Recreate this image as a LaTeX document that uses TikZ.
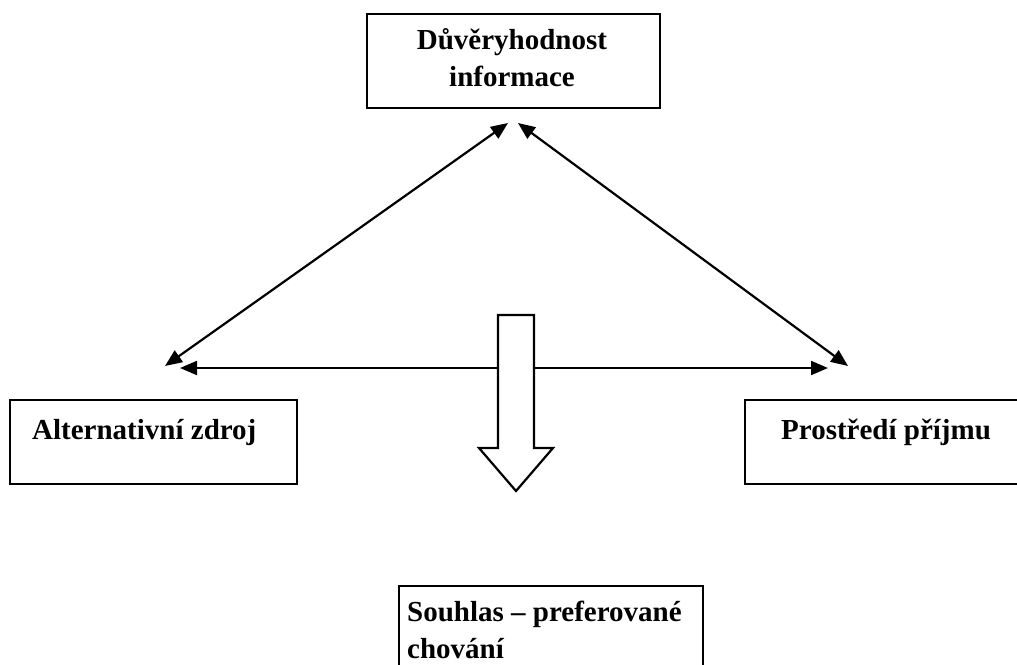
\documentclass[tikz,border=0pt]{standalone}
\usepackage{fontspec}
\setmainfont{Liberation Serif}
\usetikzlibrary{arrows.meta}
\begin{document}
\begin{tikzpicture}[x=1pt,y=-1pt,
  box/.style={draw, line width=2.2pt, inner sep=0pt, anchor=north west},
  txt/.style={font=\bfseries\fontsize{29}{37}\selectfont, inner sep=0pt},
  dbl/.style={line width=2.2pt, {Triangle[length=17pt,width=14pt]}-{Triangle[length=17pt,width=14pt]}},
  blockarrow/.style={draw, line width=2.2pt, fill=white, line join=miter}]
\useasboundingbox (0,0) rectangle (1017,664);
% boxes
\node[box, minimum width=293pt, minimum height=94pt] (topbox) at (366,13) {};
\node[txt, align=center] (toptext) at (512,58) {Důvěryhodnost\\informace};
\node[box, minimum width=287pt, minimum height=84pt] (altbox) at (9,399) {};
\node[txt, anchor=base west] (alttext) at (32,439) {Alternativní zdroj};
\node[box, minimum width=330pt, minimum height=84pt] (prbox) at (744,399) {};
\node[txt, anchor=base west] (prtext) at (781,439) {Prostředí příjmu};
\node[box, minimum width=304pt, minimum height=130pt] (soubox) at (398,585) {};
\node[txt, anchor=base west, align=left] (soutext) at (407,658) {Souhlas – preferované\\chování};
% arrow end points
\coordinate (tl) at (508,123);
\coordinate (tr) at (518,123);
\coordinate (ld) at (165,366);
\coordinate (rd) at (848,366);
\coordinate (hl) at (180,368);
\coordinate (hr) at (828,368);
\draw[dbl] (tl) -- (ld);
\draw[dbl] (tr) -- (rd);
\draw[dbl] (hl) -- (hr);
% block arrow
\draw[blockarrow] (498,315) -- (534,315) -- (534,448) -- (553,448) -- (516,491)
  -- (479,448) -- (498,448) -- cycle;
\end{tikzpicture}
\end{document}
